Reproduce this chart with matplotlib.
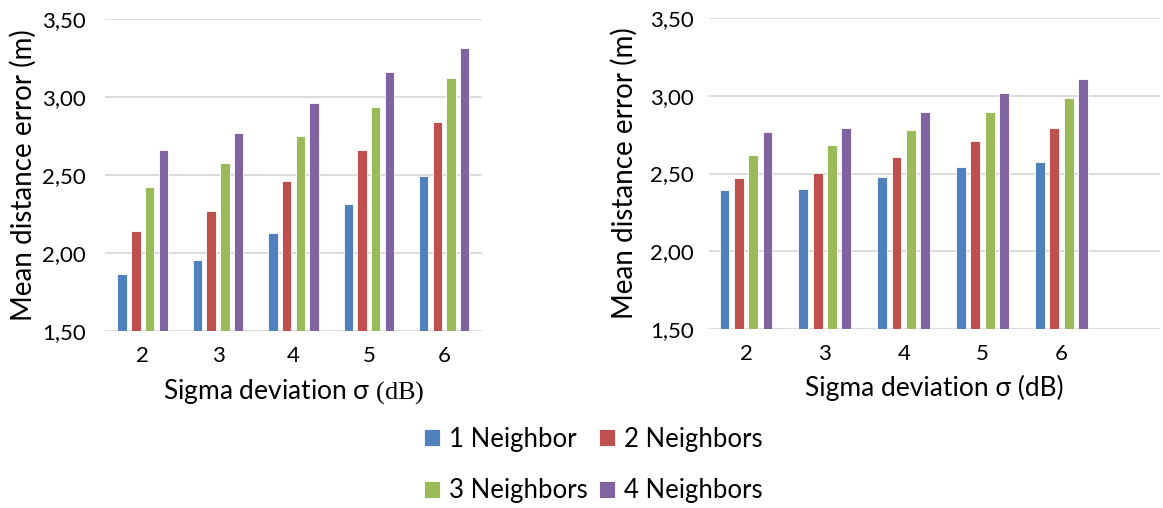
import matplotlib
matplotlib.use('Agg')
import matplotlib.pyplot as plt
import numpy as np

plt.rcParams['font.family'] = ['Lato', 'DejaVu Sans']
plt.rcParams['mathtext.fontset'] = 'custom'
plt.rcParams['mathtext.rm'] = 'Liberation Serif'

# Mean distance error per sigma deviation, for each number of neighbors
sigma = ['2', '3', '4', '5', '6']
series_names = ['1 Neighbor', '2 Neighbors', '3 Neighbors', '4 Neighbors']
colors = ['#4F81BD', '#C0504D', '#9BBB59', '#8064A2']

left_1n = [1.865, 1.957, 2.131, 2.312, 2.494]
left_2n = [2.142, 2.269, 2.460, 2.660, 2.841]
left_3n = [2.424, 2.579, 2.752, 2.939, 3.121]
left_4n = [2.662, 2.771, 2.962, 3.160, 3.315]

right_1n = [2.392, 2.398, 2.480, 2.544, 2.577]
right_2n = [2.469, 2.501, 2.609, 2.710, 2.792]
right_3n = [2.620, 2.684, 2.783, 2.899, 2.983]
right_4n = [2.764, 2.796, 2.897, 3.019, 3.105]

y_ticks = [1.5, 2.0, 2.5, 3.0, 3.5]
y_tick_labels = ['1,50', '2,00', '2,50', '3,00', '3,50']

fig = plt.figure(figsize=(11.63, 5.08), dpi=100)
ax_l = fig.add_axes([0.0903, 0.3484, 0.324, 0.614])
ax_r = fig.add_axes([0.6096, 0.3524, 0.3878, 0.612])

x = np.arange(len(sigma))
pitch = 0.182
width = 0.125


def draw_panel(ax, series, xlabel, xlim, ypad, ylabelpad):
    bars = []
    for i, (vals, col) in enumerate(zip(series, colors)):
        b = ax.bar(x + (i - 1.5) * pitch, np.array(vals) - 1.5, width=width,
                   bottom=1.5, color=col, edgecolor='white', linewidth=0.6,
                   zorder=3)
        bars.append(b)
    ax.set_ylim(1.5, 3.5)
    ax.set_xlim(*xlim)
    ax.set_yticks(y_ticks)
    ax.set_yticklabels(y_tick_labels)
    ax.set_xticks(x)
    ax.set_xticklabels(sigma)
    ax.tick_params(axis='both', length=0, labelsize=16, colors='#000000')
    ax.tick_params(axis='y', pad=ypad)
    ax.tick_params(axis='x', pad=11)
    ax.grid(axis='y', color='#d9d9d9', linewidth=1.3, zorder=0)
    ax.set_axisbelow(True)
    for s in ax.spines.values():
        s.set_visible(False)
    ax.set_ylabel('Mean distance error (m)', fontsize=20, labelpad=ylabelpad)
    ax.set_xlabel(xlabel, fontsize=19, labelpad=8)
    return bars


bars = draw_panel(ax_l, [left_1n, left_2n, left_3n, left_4n],
                  r'Sigma deviation σ $\mathrm{(dB)}$', (-0.5, 4.5), 14, 4)
draw_panel(ax_r, [right_1n, right_2n, right_3n, right_4n],
           'Sigma deviation σ (dB)', (-0.47, 5.25), 11, 9)

# legend rows: 1, 2 on top and 3, 4 below
order = [0, 2, 1, 3]
fig.legend([bars[i] for i in order], [series_names[i] for i in order],
           loc='center', bbox_to_anchor=(593 / 1163, 1 - 465 / 508),
           ncol=2, frameon=False, fontsize=18.5, handlelength=0.62,
           handleheight=0.62, handletextpad=0.35, columnspacing=0.45,
           labelspacing=1.05)

fig.savefig('out.png', dpi=100)
